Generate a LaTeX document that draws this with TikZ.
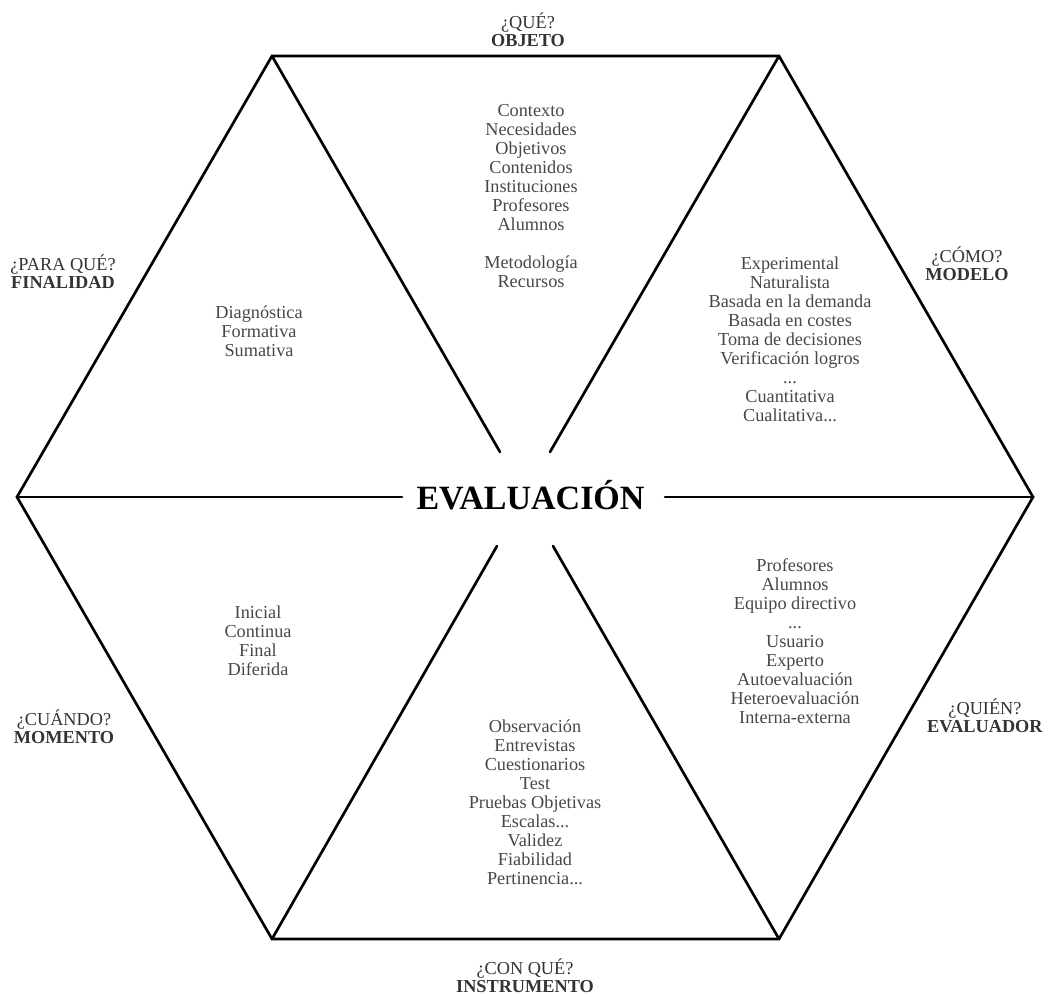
\documentclass[tikz,border=0pt]{standalone}
\usepackage{fontspec}
\setmainfont{Liberation Serif}
\usepackage{tikz}
\lineskiplimit=-10pt

\begin{document}
\begin{tikzpicture}[x=0.75pt,y=0.75pt,yscale=-1,xscale=1,
	item/.style={anchor=base,align=center,inner sep=0pt,text=black!72,font=\fontsize{13.7}{14.25}\selectfont},
	quest/.style={anchor=base,align=center,inner sep=0pt,text=black!80,font=\fontsize{13.7}{13.5}\selectfont},
	edge/.style={line width=2pt,line cap=round,line join=miter}]
			\useasboundingbox (0,0) rectangle (1049,996);

			%Corners of the hexagon
			\coordinate (tl) at (272,56);
			\coordinate (tr) at (779,56);
			\coordinate (r) at (1033,497);
			\coordinate (br) at (779,939);
			\coordinate (bl) at (272,939);
			\coordinate (l) at (17,497);
			%Inner ends of the spokes
			\coordinate (tlin) at (500,452);
			\coordinate (trin) at (550,452);
			\coordinate (rin) at (665,497);
			\coordinate (brin) at (553,546);
			\coordinate (blin) at (497,546);
			\coordinate (lin) at (402,497);

			%Shape: Hexagon
			\draw [edge] (tl) -- (tr) -- (r) -- (br) -- (bl) -- (l) -- cycle ;
			%Straight Lines
			\draw [edge] (tl) -- (tlin) ;
			\draw [edge] (tr) -- (trin) ;
			\draw [edge] (r) -- (rin) ;
			\draw [edge] (br) -- (brin) ;
			\draw [edge] (bl) -- (blin) ;
			\draw [edge] (l) -- (lin) ;

			% Text Node (anchor base = last line)
			\node (eval) [anchor=base,inner sep=0pt,font=\fontsize{25.5}{28}\selectfont\bfseries] at (530.5,509) {EVALUACIÓN};
			% Text Node
			\node (qobj) [quest] at (528,46) {¿QUÉ?\\\textbf{OBJETO}};
			% Text Node
			\node (obj) [item] at (531,287) {Contexto\\Necesidades\\Objetivos\\Contenidos\\Instituciones\\Profesores\\Alumnos\\[14.25pt]Metodología\\Recursos};
			% Text Node
			\node (qfin) [quest] at (63,288) {¿PARA QUÉ?\\\textbf{FINALIDAD}};
			% Text Node
			\node (fin) [item] at (259,356) {Diagnóstica\\Formativa\\Sumativa};
			% Text Node
			\node (qmod) [quest] at (967,280) {¿CÓMO?\\\textbf{MODELO}};
			% Text Node
			\node (mod) [item] at (790,421) {Experimental\\Naturalista\\Basada en la demanda\\Basada en costes\\Toma de decisiones\\Verificación logros\\...\\Cuantitativa\\Cualitativa...};
			% Text Node
			\node (qmom) [quest] at (64,743) {¿CUÁNDO?\\\textbf{MOMENTO}};
			% Text Node
			\node (mom) [item] at (258,675) {Inicial\\Continua\\Final\\Diferida};
			% Text Node
			\node (qinst) [quest] at (525,992) {¿CON QUÉ?\\\textbf{INSTRUMENTO}};
			% Text Node
			\node (inst) [item] at (535,884) {Observación\\Entrevistas\\Cuestionarios\\Test\\Pruebas Objetivas\\Escalas...\\Validez\\Fiabilidad\\Pertinencia...};
			% Text Node
			\node (qeva) [quest] at (985,732) {¿QUIÉN?\\\textbf{EVALUADOR}};
			% Text Node
			\node (eva) [item] at (795,723) {Profesores\\Alumnos\\Equipo directivo\\...\\Usuario\\Experto\\Autoevaluación\\Heteroevaluación\\Interna-externa};

		\end{tikzpicture}
\end{document}
